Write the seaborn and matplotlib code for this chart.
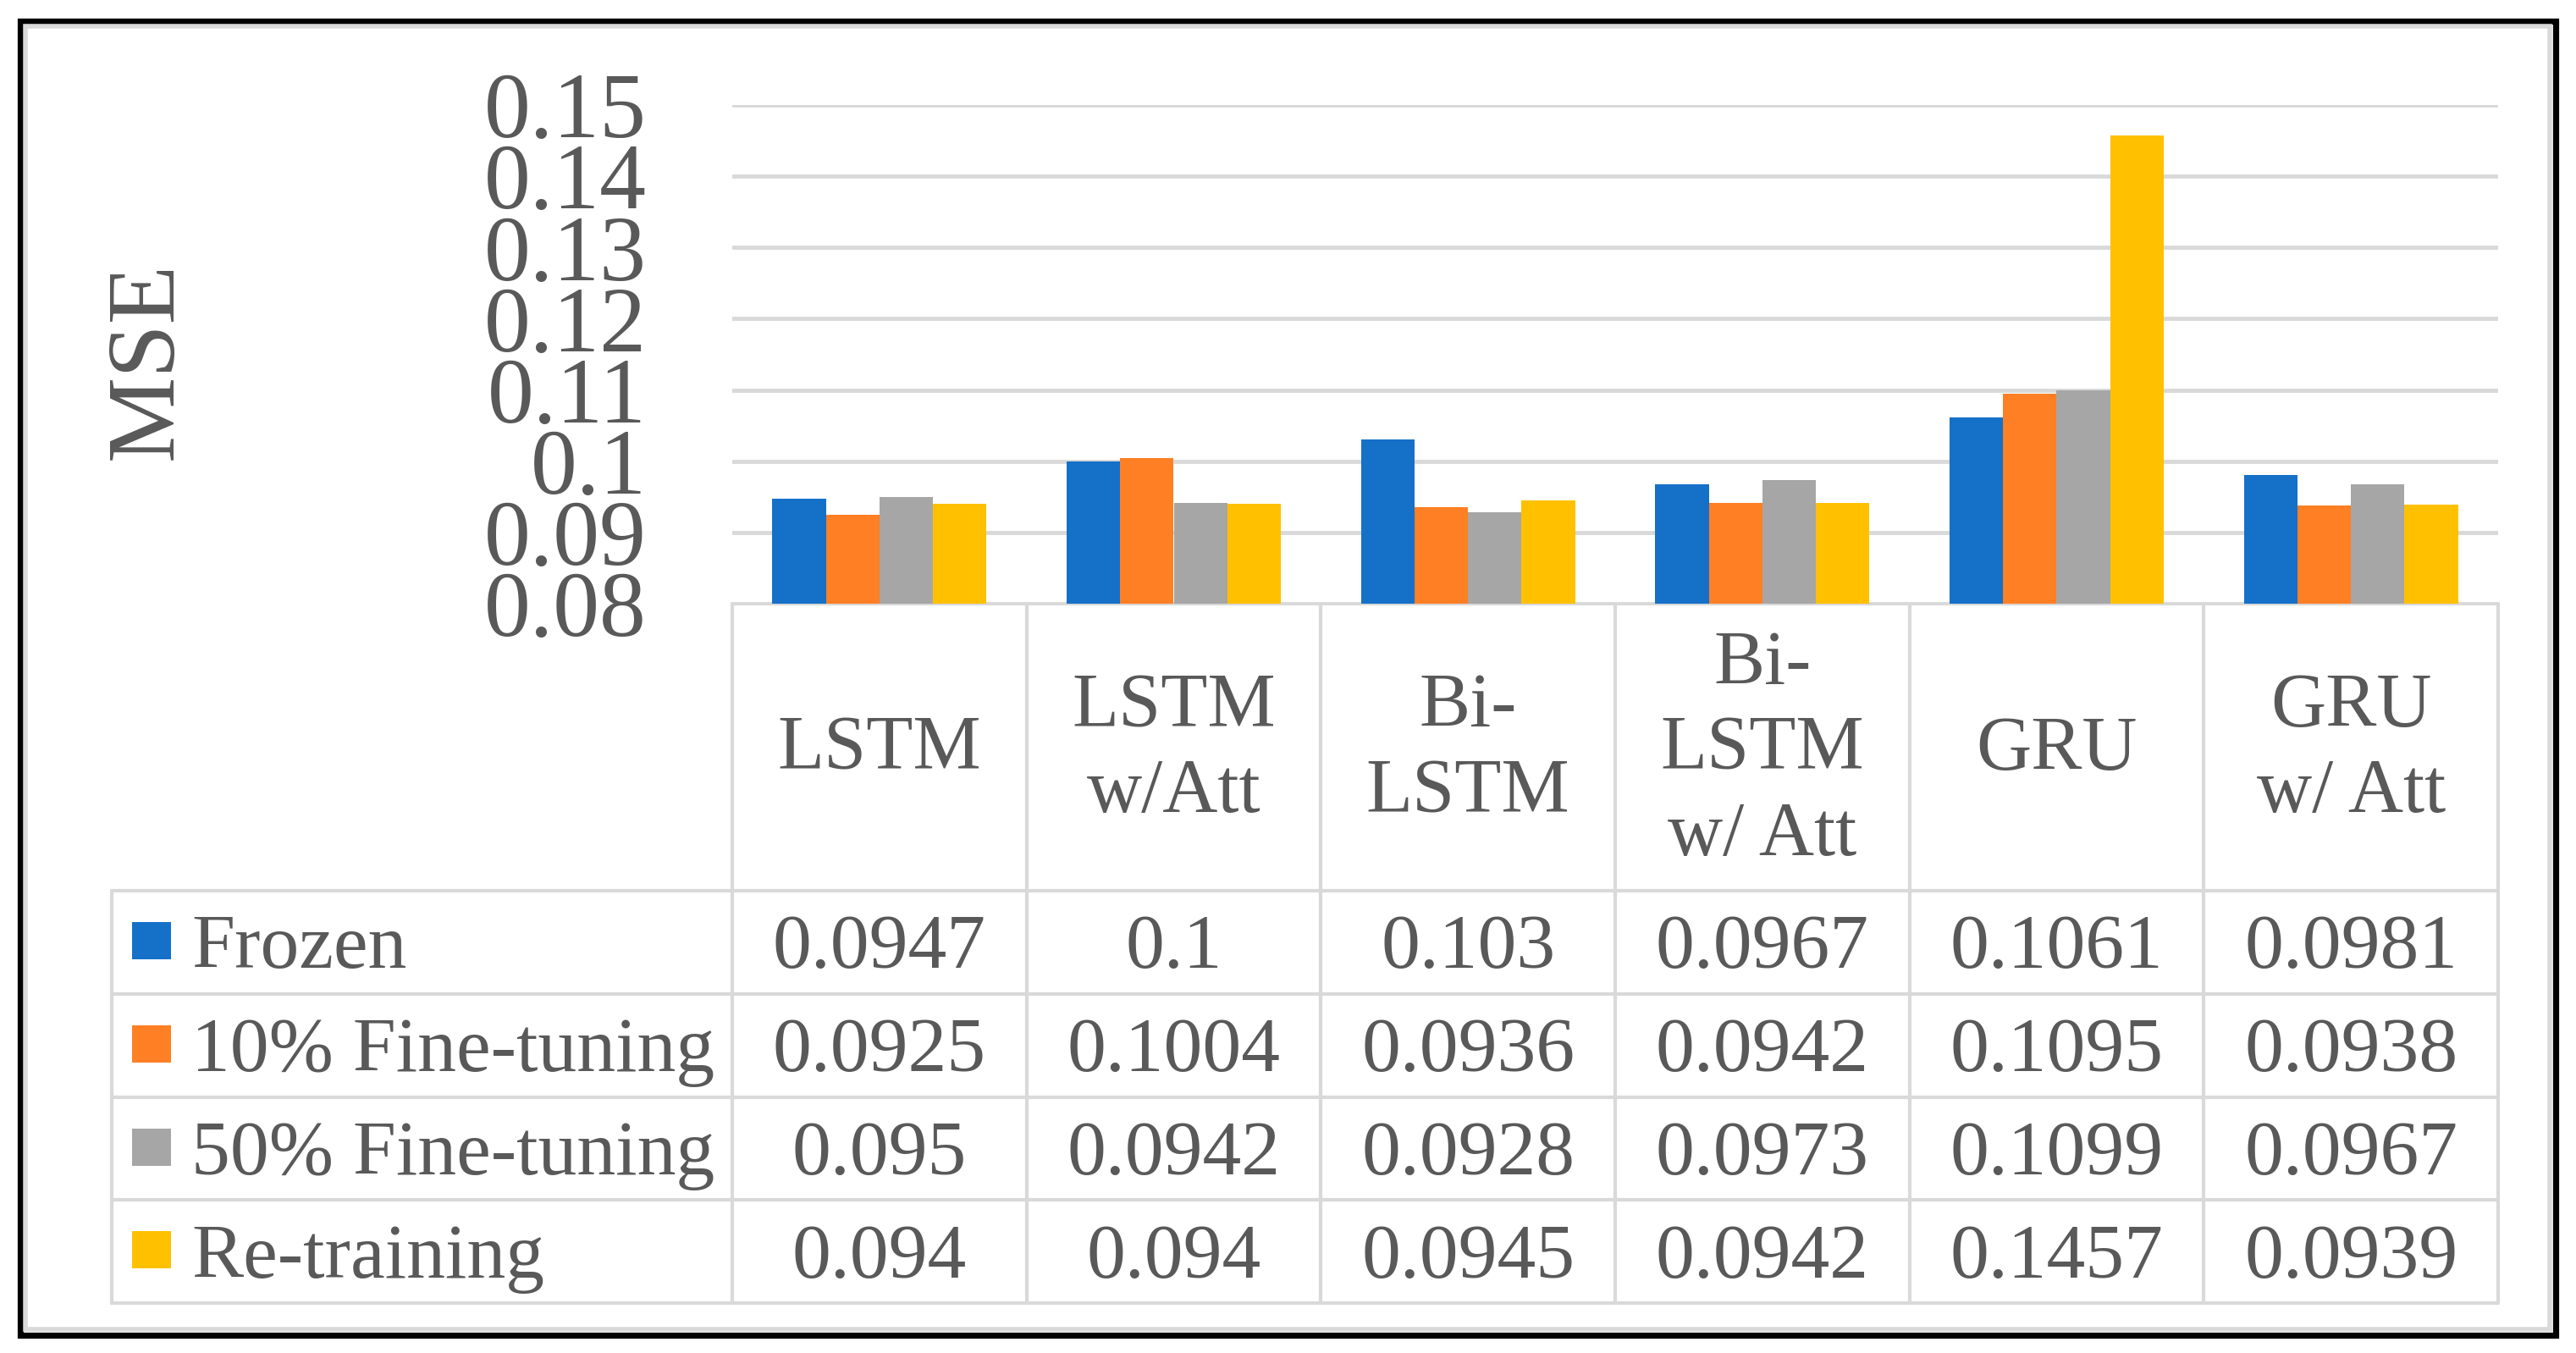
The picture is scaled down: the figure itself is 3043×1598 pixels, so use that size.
import matplotlib
matplotlib.use("Agg")
import matplotlib.pyplot as plt
import matplotlib.patches as mpatches
import seaborn as sns
import numpy as np
import pandas as pd

# data
models = ["LSTM", "LSTM\nw/Att", "Bi-\nLSTM", "Bi-\nLSTM\nw/ Att", "GRU", "GRU\nw/ Att"]
methods = ["Frozen", "10% Fine-tuning", "50% Fine-tuning", "Re-training"]
frozen = [0.0947, 0.1, 0.103, 0.0967, 0.1061, 0.0981]
ft10 = [0.0925, 0.1004, 0.0936, 0.0942, 0.1095, 0.0938]
ft50 = [0.095, 0.0942, 0.0928, 0.0973, 0.1099, 0.0967]
retrain = [0.094, 0.094, 0.0945, 0.0942, 0.1457, 0.0939]
yticks = [0.08, 0.09, 0.10, 0.11, 0.12, 0.13, 0.14, 0.15]
ytick_labels = ["0.08", "0.09", "0.1", "0.11", "0.12", "0.13", "0.14", "0.15"]
colors = ["#1570c8", "#ff7f24", "#a6a6a6", "#ffc000"]

series = [frozen, ft10, ft50, retrain]
rows = []
for m, vals in zip(methods, series):
    for model, v in zip(models, vals):
        rows.append({"model": model, "method": m, "mse": v})
df = pd.DataFrame(rows)

sns.set_style("white")
plt.rcParams["font.family"] = ["Liberation Serif", "DejaVu Serif"]
TXT = "#595959"
GRID = "#d9d9d9"

W, H = 3043, 1598
fig = plt.figure(figsize=(W / 100, H / 100), dpi=100)

# pixel layout of the Excel-style chart + data table
x0, x1 = 865, 2951          # plot / table columns
y_top, y_bot = 124, 713      # 0.15 .. 0.08
hdr_bot = 1052
row_edges = [1052, 1174, 1296, 1417, 1539]
leg_left = 132
colw = (x1 - x0) / len(models)

ax = fig.add_axes([x0 / W, 1 - y_bot / H, (x1 - x0) / W, (y_bot - y_top) / H])
sns.barplot(data=df, x="model", y="mse", hue="method", palette=colors,
            width=0.727, saturation=1, legend=False, ax=ax, linewidth=0)
ax.set_ylim(0.08, 0.15)
ax.set_xlim(-0.5, len(models) - 0.5)
ax.set_yticks(yticks)
ax.set_yticklabels(ytick_labels, fontsize=79, color=TXT)
ax.tick_params(axis="y", length=0, pad=73)
ax.set_xticks([])
ax.set_xlabel("")
ax.set_ylabel("")
ax.grid(axis="y", color=GRID, linewidth=3.5)
ax.set_axisbelow(True)
for s in ax.spines.values():
    s.set_visible(False)

# overlay axes in pixel coordinates for table, label and frame
ov = fig.add_axes([0, 0, 1, 1], zorder=-1)
ov.set_xlim(0, W)
ov.set_ylim(H, 0)
ov.axis("off")

lw = 3.0
# header grid
ov.plot([x0, x1], [y_bot, y_bot], color=GRID, lw=lw, solid_capstyle="butt")
for i in range(len(models) + 1):
    xx = x0 + i * colw
    ov.plot([xx, xx], [y_bot, row_edges[-1]], color=GRID, lw=lw)
ov.plot([leg_left, leg_left], [row_edges[0], row_edges[-1]], color=GRID, lw=lw)
for ry in row_edges:
    ov.plot([leg_left, x1], [ry, ry], color=GRID, lw=lw)

# category headers
for i, model in enumerate(models):
    ov.text(x0 + (i + 0.5) * colw, (y_bot + hdr_bot) / 2 + 4, model,
            ha="center", va="center", multialignment="center",
            fontsize=65, color=TXT, linespacing=1.29)

# rows: legend key + values
for r, (m, vals) in enumerate(zip(methods, series)):
    rt, rb = row_edges[r], row_edges[r + 1]
    base = rt + 0.75 * (rb - rt)
    ov.add_patch(mpatches.Rectangle((156, rt + 37), 46, 44, color=colors[r], lw=0))
    ov.text(226, base, m, ha="left", va="baseline", fontsize=66, color=TXT)
    for i, v in enumerate(vals):
        ov.text(x0 + (i + 0.5) * colw, base, format(v, "g"),
                ha="center", va="baseline", fontsize=66, color=TXT)

ov.text(175, 426, "MSE", rotation=90, ha="center", va="center",
        fontsize=82, color=TXT)

# outer frame
ov.add_patch(mpatches.Rectangle((23.5, 24.5), 3019 - 23.5, 1576.5 - 24.5,
                                fill=False, edgecolor="black", lw=5.2))
ov.add_patch(mpatches.Rectangle((30, 31), 3012 - 30, 1570 - 31,
                                fill=False, edgecolor=GRID, lw=4))

fig.savefig("out.png", dpi=100)
